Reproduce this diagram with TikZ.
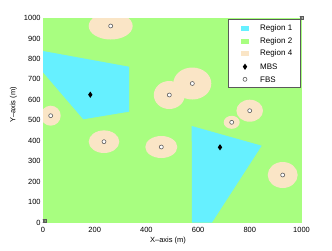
\documentclass[tikz,border=0pt]{standalone}
\usepackage{fontspec}
\setmainfont{Liberation Sans}
\usetikzlibrary{shapes.geometric}
\definecolor{regone}{RGB}{102,240,255}
\definecolor{regtwo}{RGB}{168,254,128}
\definecolor{regfour}{RGB}{250,229,198}
\definecolor{mkgray}{RGB}{90,90,90}
\tikzset{
  fbs/.style={circle,draw=mkgray,fill=white,line width=0.6pt,inner sep=0pt,minimum size=4pt},
  mbs/.style={diamond,fill=black,inner sep=0pt,minimum width=4.5pt,minimum height=6.5pt},
  ticklab/.style={font=\fontsize{7.5}{8}\selectfont,inner sep=0pt},
  legtext/.style={font=\fontsize{8}{9}\selectfont,inner sep=0pt,anchor=west},
  swatch/.style={minimum width=8pt,minimum height=5pt,inner sep=0pt},
  cornermk/.style={draw=mkgray,line width=0.4pt,minimum size=3pt,inner sep=0pt}
}
\begin{document}
\begin{tikzpicture}[x=1pt,y=-1pt]
\useasboundingbox (0,0) rectangle (332,250);
\fill[white] (0,0) rectangle (332,250);
% plot area
\fill[regtwo] (43,18) rectangle (301.5,222.5);
\begin{scope}
\clip (43,18) rectangle (301.5,222.5);
\fill[regfour] (110.7,26) ellipse [x radius=22pt, y radius=13.5pt];
\fill[regfour] (50.7,115.7) ellipse [x radius=10pt, y radius=10pt];
\fill[regfour] (104,141.7) ellipse [x radius=15.3pt, y radius=11.3pt];
\fill[regfour] (161.3,147) ellipse [x radius=16pt, y radius=11pt];
\fill[regfour] (169.3,95) ellipse [x radius=15.5pt, y radius=14pt];
\fill[regfour] (192.3,83.5) ellipse [x radius=19pt, y radius=16pt];
\fill[regfour] (249.7,110.7) ellipse [x radius=13.3pt, y radius=11pt];
\fill[regfour] (231.7,122.3) ellipse [x radius=8pt, y radius=6.5pt];
\fill[regfour] (282.7,175) ellipse [x radius=15pt, y radius=13pt];
\fill[regone] (43,51) -- (129,66.7) -- (129,111.7) -- (83.3,119.3) -- (43,72.3) -- cycle;
\fill[regone] (191.7,126) -- (261.7,145.7) -- (212,222.5) -- (192,222.5) -- cycle;
\end{scope}
% FBS markers
\node[fbs] (f1) at (110.7,26) {};
\node[fbs] (f2) at (50.7,115.7) {};
\node[fbs] (f3) at (104,141.7) {};
\node[fbs] (f4) at (161.3,147) {};
\node[fbs] (f5) at (169.3,95) {};
\node[fbs] (f6) at (192.3,83.5) {};
\node[fbs] (f7) at (249.7,110.7) {};
\node[fbs] (f8) at (231.7,122.3) {};
\node[fbs] (f9) at (282.7,175) {};
% MBS markers
\node[mbs] (m1) at (90.3,94.7) {};
\node[mbs] (m2) at (220,147.3) {};
% corner markers
\node[cornermk] (c0) at (44.5,221) {};
\draw[mkgray,line width=0.4pt] (c0.north west) -- (c0.south east) (c0.north east) -- (c0.south west);
\node[cornermk] (c1) at (301.5,18) {};
\draw[mkgray,line width=0.4pt] (c1.north west) -- (c1.south east) (c1.north east) -- (c1.south west);
% legend
\node[draw=mkgray,fill=white,line width=0.5pt,minimum width=71.6pt,minimum height=68pt,inner sep=0pt] (leg) at (264.5,53.3) {};
\node[swatch,fill=regone] (s1) at (245,28) {};
\node[swatch,fill=regtwo] (s2) at (245,41.3) {};
\node[swatch,fill=regfour] (s4) at (245,53.7) {};
\node[mbs] (sm) at (245,66.7) {};
\node[fbs] (sf) at (245,79.3) {};
\node[legtext] (t1) at (260,28) {Region 1};
\node[legtext] (t2) at (260,41.3) {Region 2};
\node[legtext] (t4) at (260,53.7) {Region 4};
\node[legtext] (tm) at (260,66.7) {MBS};
\node[legtext] (tf) at (260,79.3) {FBS};
% y tick labels
\foreach \v [count=\i from 0] in {0,100,200,300,400,500,600,700,800,900,1000}{
  \node[ticklab,anchor=east] (yl\i) at (40.8,222.5-\i*20.45) {\v};
}
% x tick labels
\foreach \v [count=\i from 0] in {0,200,400,600,800,1000}{
  \node[ticklab] (xl\i) at (43+\i*51.7,230) {\v};
}
\node[ticklab] (xlab) at (168,240.5) {X–axis (m)};
\node[ticklab,rotate=90] (ylab) at (13.5,105) {Y–axis (m)};
\end{tikzpicture}
\end{document}
